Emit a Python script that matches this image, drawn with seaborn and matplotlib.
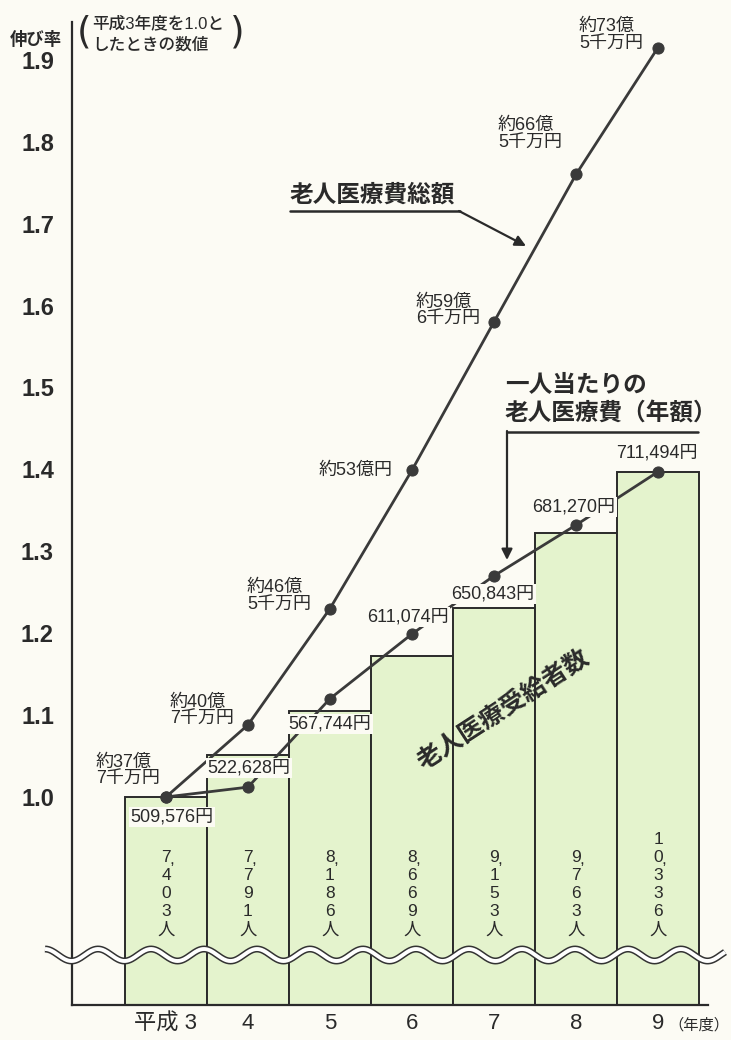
import numpy as np
import pandas as pd
import matplotlib
matplotlib.use('Agg')
import matplotlib.pyplot as plt
import seaborn as sns

# 伸び率（平成3年度を1.0としたときの数値）
years = ['平成 3', '4', '5', '6', '7', '8', '9']
recipients = [7403, 7791, 8186, 8669, 9153, 9763, 10336]
recipient_ratio = [1.0, 1.051, 1.105, 1.172, 1.231, 1.322, 1.397]
total_ratio = [1.0, 1.088, 1.230, 1.399, 1.580, 1.760, 1.915]
total_labels = ['約37億\n7千万円', '約40億\n7千万円', '約46億\n5千万円', '約53億円',
                '約59億\n6千万円', '約66億\n5千万円', '約73億\n5千万円']
per_ratio = [1.0, 1.012, 1.120, 1.199, 1.270, 1.332, 1.397]
per_labels = ['509,576円', '522,628円', '567,744円', '611,074円',
              '650,843円', '681,270円', '711,494円']
yticks = [1.0, 1.1, 1.2, 1.3, 1.4, 1.5, 1.6, 1.7, 1.8, 1.9]

# label offsets in pixels (dx, dy down)
total_off = [(-70, -26), (-78, -14), (-83, -12), (-93, 0), (-78, -11), (-78, -40), (-79, -12)]
per_off = [(6, 20), (1, -19), (0, 25), (-4, -17), (-1, 18), (-2, -18), (-1, -19)]

bg = '#fcfbf4'
bar_col = '#e4f3cd'
ink = '#2a2a2a'

sns.set_style('white')
plt.rcParams['font.family'] = ['Liberation Sans', 'Noto Sans CJK JP']
jp = ['Noto Sans CJK JP']

df = pd.DataFrame({'year': years, 'pos': np.arange(len(years)),
                   'recip': recipient_ratio, 'total': total_ratio, 'per': per_ratio})

fig = plt.figure(figsize=(7.31, 10.40), dpi=100, facecolor=bg)
ax = fig.add_axes([72 / 731, 35 / 1040, (731 - 72) / 731, 1005 / 1040])
ax.set_facecolor(bg)

sns.barplot(data=df, x='year', y='recip', color=bar_col, saturation=1, width=1,
            edgecolor=ink, linewidth=1.4, ax=ax, zorder=1)
sns.lineplot(data=df, x='pos', y='total', color='#3a3a3a', lw=2, marker='o',
             markersize=8, markeredgecolor='#3a3a3a', ax=ax, zorder=3)
sns.lineplot(data=df, x='pos', y='per', color='#3a3a3a', lw=2, marker='o',
             markersize=8, markeredgecolor='#3a3a3a', ax=ax, zorder=3)

ax.set_xlim(-1.146, 6.89)
ax.set_ylim(0.746, 1.973)
ax.set_xlabel('')
ax.set_ylabel('')

for s in ['top', 'right']:
    ax.spines[s].set_visible(False)
for s in ['left', 'bottom']:
    ax.spines[s].set_linewidth(1.6)
    ax.spines[s].set_color(ink)
ax.spines['left'].set_bounds(0.746, 1.946)
ax.spines['bottom'].set_bounds(-1.146, 6.61)

ax.set_yticks(yticks)
ax.set_yticklabels([f'{v:.1f}' for v in yticks], fontweight='bold')
ax.tick_params(axis='y', direction='in', length=21, width=1.5, pad=13,
               labelsize=17, color=ink, labelcolor=ink)
ax.set_xticks(range(len(years)))
ax.set_xticklabels(years, fontsize=16)
ax.tick_params(axis='x', length=0, pad=6, labelcolor=ink)

# point labels
for i in range(len(years)):
    dx, dy = total_off[i]
    ax.annotate(total_labels[i], xy=(i, total_ratio[i]), xytext=(dx * 0.72, -dy * 0.72),
                textcoords='offset points', ha='left', va='center', fontsize=13,
                color=ink, linespacing=1.05, zorder=5)
    dx, dy = per_off[i]
    ax.annotate(per_labels[i], xy=(i, per_ratio[i]), xytext=(dx * 0.72, -dy * 0.72),
                textcoords='offset points', ha='center', va='center', fontsize=13,
                color=ink, zorder=5,
                bbox=dict(boxstyle='square,pad=0.08', fc=bg, ec='none'))

# vertical recipient counts inside bars
base_y = 1 - (930 - 797) / 819
for i, c in enumerate(recipients):
    s = f'{c:,}'
    lines = []
    for ch in s:
        if ch == ',':
            lines[-1] = lines[-1] + ','
        else:
            lines.append(ch)
    lines.append('人')
    n = len(lines)
    for j, ln in enumerate(lines):
        k = n - 1 - j
        ax.annotate(ln[0], xy=(i, base_y), xytext=(0, k * 18 * 0.72),
                    textcoords='offset points', ha='center', va='center',
                    fontsize=12.5, color=ink, zorder=5)
        if ln.endswith(','):
            ax.annotate(',', xy=(i, base_y), xytext=(6 * 0.72, k * 18 * 0.72 - 1),
                        textcoords='offset points', ha='center', va='center',
                        fontsize=12.5, color=ink, zorder=5)

# overlay in pixel coordinates for the decorations
ov = fig.add_axes([0, 0, 1, 1])
ov.set_xlim(0, 731)
ov.set_ylim(1040, 0)
ov.axis('off')
ov.patch.set_visible(False)

# wavy break
wx = np.linspace(45, 725, 800)
wy = 955 - 6 * np.cos(2 * np.pi * (wx - 45) / 53)
ov.plot(wx, wy, color='#333333', lw=5.0, solid_capstyle='butt')
ov.plot(wx, wy, color='white', lw=2.8, solid_capstyle='butt')

# axis captions
ov.text(10, 40, '伸び率', fontsize=12.5, fontweight='bold', family=jp, color=ink,
        ha='left', va='center')
ov.text(84, 32, '(', fontsize=27, family=['DejaVu Sans'], color=ink, ha='center', va='center')
ov.text(237, 32, ')', fontsize=27, family=['DejaVu Sans'], color=ink, ha='center', va='center')
ov.text(92, 23, '平成3年度を1.0と', fontsize=12, fontweight='medium', color=ink,
        ha='left', va='center')
ov.text(92, 45, 'したときの数値', fontsize=12, fontweight='medium', family=jp, color=ink,
        ha='left', va='center')
ov.text(729, 1025, '（年度）', fontsize=11, family=jp, color=ink, ha='right', va='center')

# 老人医療費総額 callout
ov.text(290, 195, '老人医療費総額', fontsize=17, fontweight='bold', family=jp, color=ink,
        ha='left', va='center')
ov.plot([290, 460], [211, 211], color=ink, lw=1.8)
ov.annotate('', xy=(526, 246), xytext=(459, 211),
            arrowprops=dict(arrowstyle='-|>', color=ink, lw=1.6, mutation_scale=16,
                            shrinkA=0, shrinkB=0))

# 一人当たり callout
ov.text(505, 385, '一人当たりの', fontsize=17, fontweight='bold', family=jp, color=ink,
        ha='left', va='center')
ov.text(505, 413, '老人医療費（年額）', fontsize=17, fontweight='bold', family=jp, color=ink,
        ha='left', va='center')
ov.plot([698, 507], [432, 432], color=ink, lw=1.8)
ov.annotate('', xy=(507, 560), xytext=(507, 431),
            arrowprops=dict(arrowstyle='-|>', color=ink, lw=1.6, mutation_scale=16,
                            shrinkA=0, shrinkB=0))

# bar series caption
ov.text(503, 710, '老人医療受給者数', fontsize=18, fontweight='bold', family=jp, color=ink,
        rotation=33, ha='center', va='center', rotation_mode='anchor')

fig.savefig('out.png', dpi=100, facecolor=bg)
